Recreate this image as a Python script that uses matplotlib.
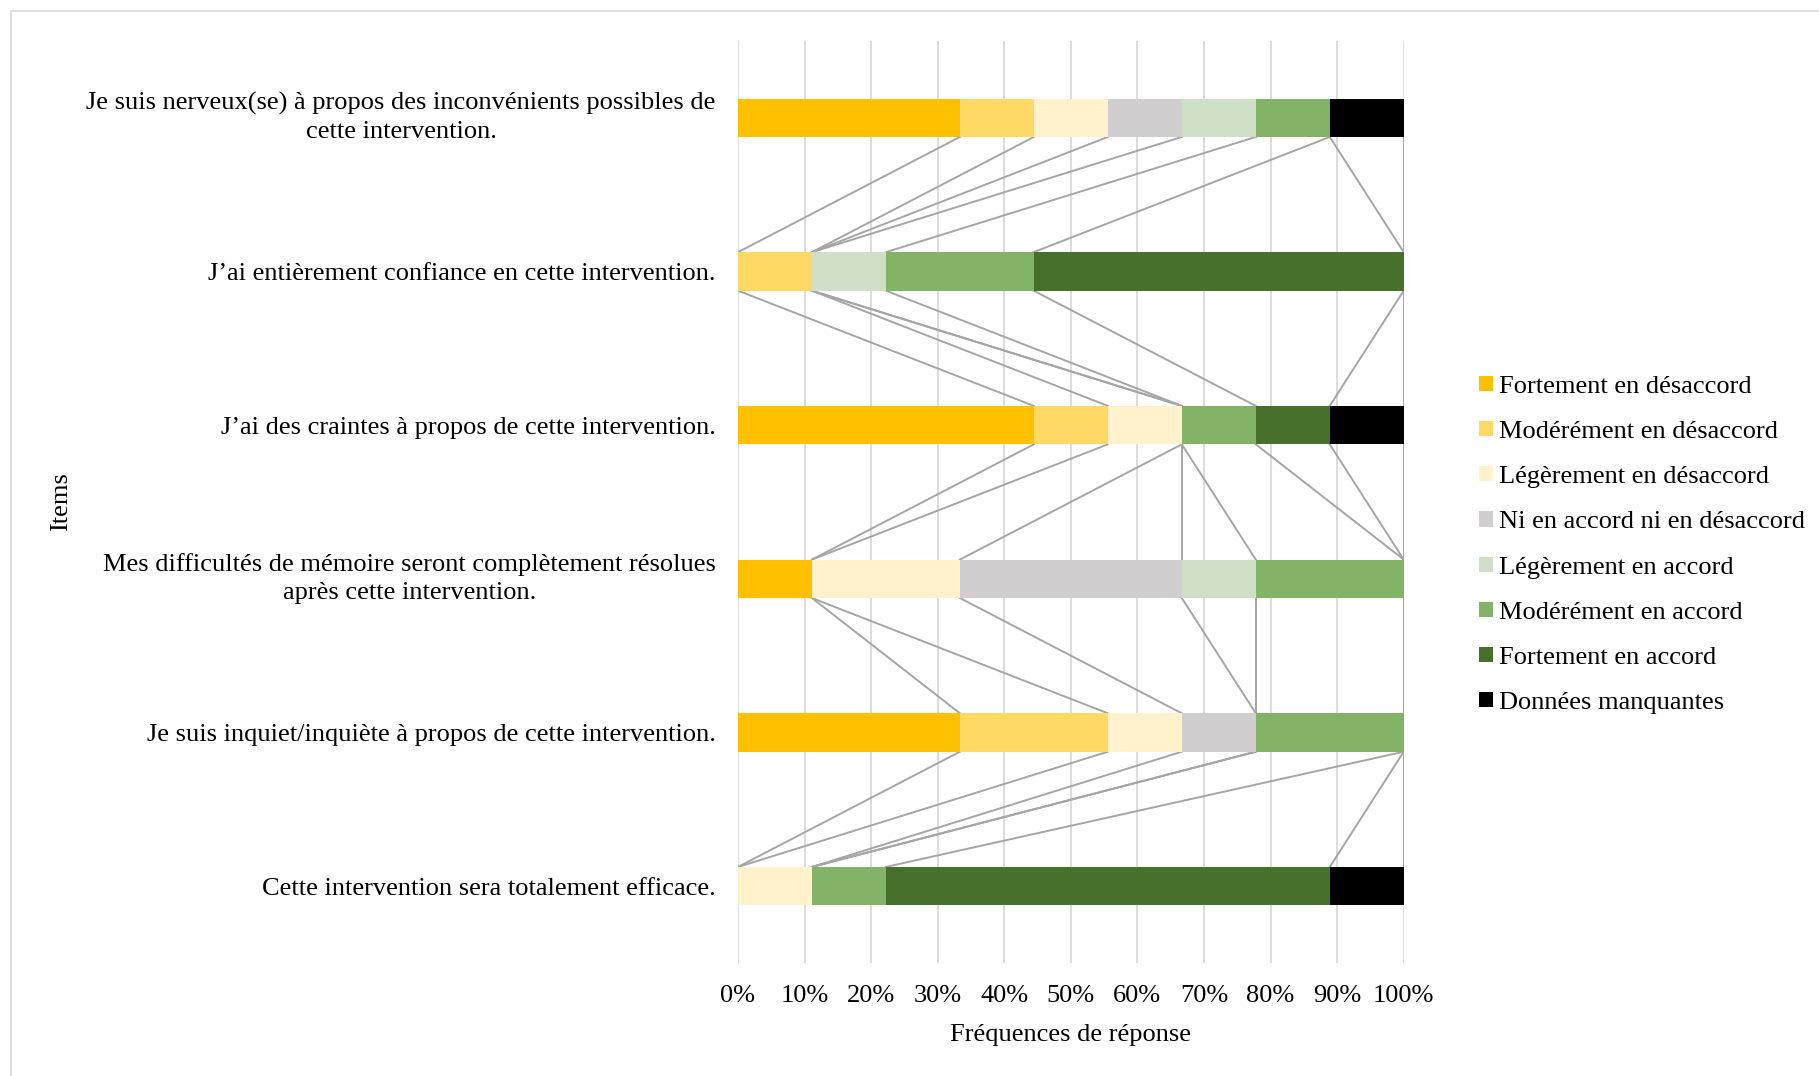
"""Graphique en barres empilées 100% : réponses aux items sur l'intervention."""

import matplotlib.pyplot as plt
import numpy as np
from matplotlib.patches import Patch, Rectangle

plt.rcParams['font.family'] = ['Liberation Serif', 'DejaVu Serif']

ITEMS = [
    'Je suis nerveux(se) à propos des inconvénients possibles de\ncette intervention.',
    'J’ai entièrement confiance en cette intervention.',
    'J’ai des craintes à propos de cette intervention.',
    'Mes difficultés de mémoire seront complètement résolues\naprès cette intervention.',
    'Je suis inquiet/inquiète à propos de cette intervention.',
    'Cette intervention sera totalement efficace.',
]

SERIES = [
    'Fortement en désaccord',
    'Modérément en désaccord',
    'Légèrement en désaccord',
    'Ni en accord ni en désaccord',
    'Légèrement en accord',
    'Modérément en accord',
    'Fortement en accord',
    'Données manquantes',
]

# fréquences (%) par item, une liste par série
fortement_desaccord = [33.3, 0.0, 44.4, 11.1, 33.3, 0.0]
moderement_desaccord = [11.1, 11.1, 11.1, 0.0, 22.2, 0.0]
legerement_desaccord = [11.1, 0.0, 11.1, 22.2, 11.1, 11.1]
ni_accord_ni_desaccord = [11.1, 0.0, 0.0, 33.3, 11.1, 0.0]
legerement_accord = [11.1, 11.1, 0.0, 11.1, 0.0, 0.0]
moderement_accord = [11.1, 22.2, 11.1, 22.2, 22.2, 11.1]
fortement_accord = [0.0, 55.6, 11.1, 0.0, 0.0, 66.7]
donnees_manquantes = [11.1, 0.0, 11.1, 0.0, 0.0, 11.1]

COLORS = ['#FFC000', '#FFD966', '#FFF2CC', '#D0CECE',
          '#D0DFC8', '#82B366', '#47702D', '#000000']

BAR_HEIGHT = 0.25
FONT_SIZE = 19


def main():
    values = np.array([
        fortement_desaccord, moderement_desaccord, legerement_desaccord,
        ni_accord_ni_desaccord, legerement_accord, moderement_accord,
        fortement_accord, donnees_manquantes,
    ])
    # normaliser à 100 % pour chaque item
    values = values / values.sum(axis=0) * 100
    cum = np.cumsum(values, axis=0)
    starts = cum - values

    fig = plt.figure(figsize=(18.19, 10.76), dpi=100)
    ax = fig.add_axes([0.4057, 0.105, 0.366, 0.857])

    y = np.arange(len(ITEMS))
    for i, name in enumerate(SERIES):
        ax.barh(y, values[i], left=starts[i], height=BAR_HEIGHT,
                color=COLORS[i], label=name, zorder=3, linewidth=0)

    # lignes de séries (style Excel)
    for i in range(len(SERIES)):
        for j in range(len(ITEMS) - 1):
            ax.plot([cum[i, j], cum[i, j + 1]],
                    [j + BAR_HEIGHT / 2, j + 1 - BAR_HEIGHT / 2],
                    color='#A5A5A5', linewidth=1.4, zorder=2)

    ax.set_xlim(0, 100)
    ax.set_ylim(len(ITEMS) - 0.5, -0.5)
    ax.set_xticks(np.arange(0, 101, 10))
    ax.set_xticklabels([f'{t}%' for t in range(0, 101, 10)])
    ax.set_yticks(y)
    labels = ax.set_yticklabels(ITEMS, multialignment='center',
                                linespacing=1.35)
    for lab in labels:
        # les étiquettes sur deux lignes sont centrées sur la barre
        if '\n' in lab.get_text():
            lab.set_verticalalignment('center')
    ax.tick_params(axis='both', length=0, labelsize=FONT_SIZE)
    ax.tick_params(axis='y', pad=16)
    ax.tick_params(axis='x', pad=16)
    ax.grid(axis='x', color='#D9D9D9', linewidth=1.3, zorder=0)
    for spine in ax.spines.values():
        spine.set_visible(False)

    ax.set_xlabel('Fréquences de réponse', fontsize=FONT_SIZE, labelpad=12)
    ax.set_ylabel('Items', fontsize=FONT_SIZE)
    ax.yaxis.set_label_coords(-1.0, 0.5)

    handles = [Patch(facecolor=c, edgecolor='none') for c in COLORS]
    fig.legend(handles, SERIES, loc='center left',
               bbox_to_anchor=(0.8075, 0.4935), frameon=False,
               fontsize=FONT_SIZE, handlelength=0.5, handleheight=0.5,
               handletextpad=0.25, labelspacing=0.88, borderaxespad=0)

    # cadre du graphique
    fig.patches.append(Rectangle((0.006, -0.01), 1.0, 0.9998,
                                 transform=fig.transFigure, fill=False,
                                 edgecolor='#D9D9D9', linewidth=1.2))

    fig.savefig('out.png', dpi=100)
    plt.close(fig)


if __name__ == '__main__':
    main()
